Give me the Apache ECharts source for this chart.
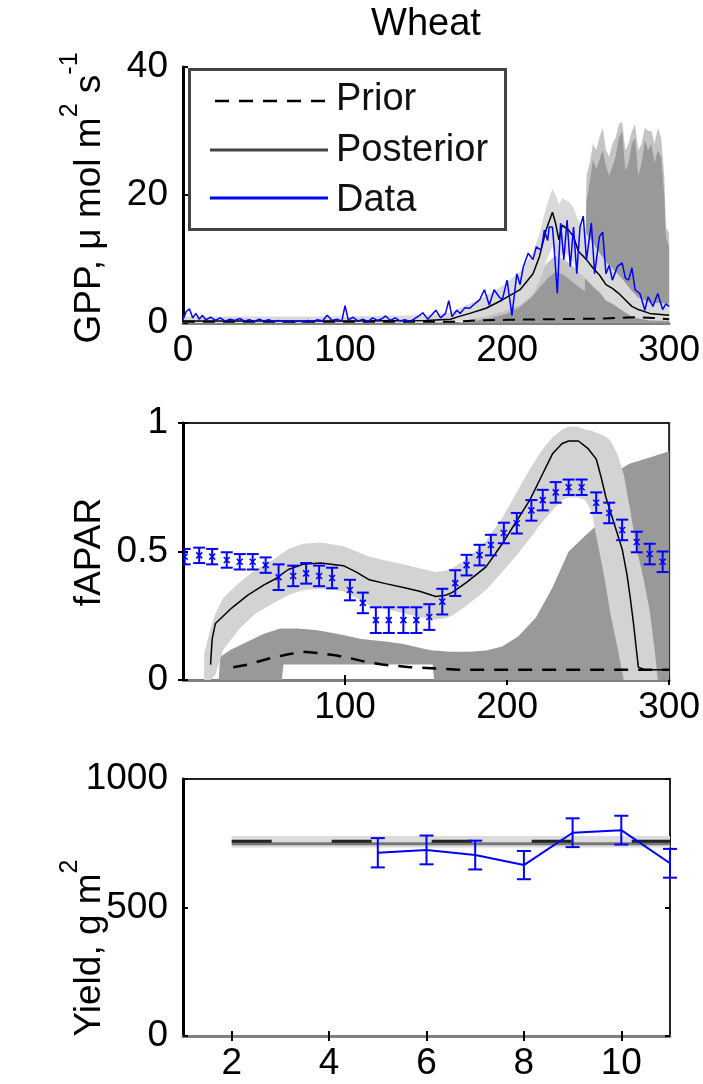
<!DOCTYPE html>
<html><head><meta charset="utf-8">
<script src="https://cdn.jsdelivr.net/npm/echarts@6/dist/echarts.min.js"></script>
<style>html,body{margin:0;padding:0;background:#fff}#c{width:703px;height:1084px}</style>
</head><body><div id="c"></div>
<script>
// ---------------- GPP panel ----------------
const gppObsDays = [0,2,4,6,8,10,12,14,17,20,23,26,29,32,35,38,41,44,47,50,53,56,59,62,65,68,71,74,77,80,83,86,89,92,95,98,100,102,105,108,111,114,117,120,123,125,128,131,134,137,140,143,146,148,151,154,156,159,162,164,166,169,171,174,177,180,183,186,189,192,195,197,200,203,206,208,210,213,216,218,221,223,225,226,228,229,231,233,235,237,239,241,243,245,247,249,252,254,257,259,261,263,265,268,271,273,275,277,279,282,285,287,290,293,296,298,300];
const gppObs = [0.5,1.8,2.2,0.8,1.5,0.6,1.2,0.5,0.9,0.4,0.8,0.3,0.6,0.4,0.7,0.3,0.5,0.2,0.6,0.3,0.5,0.2,0.4,0.2,0.3,0.1,0.3,0.2,0.4,0.2,0.5,0.3,1.2,0.4,0.6,0.3,2.7,0.5,0.9,0.3,0.6,0.2,0.8,0.4,0.7,1.1,0.4,0.8,0.3,0.5,0.2,0.7,1.2,1.6,0.6,1.4,2.0,0.8,1.5,3.5,1.0,2.0,1.5,2.4,2.3,3.0,3.6,5.2,2.8,5.2,4.1,3.6,6.7,1.2,7.7,6.0,8.8,10.9,9.9,11.9,11.4,14.5,12.9,15.0,15.0,11.9,4.6,15.6,9.9,16.1,8.8,15.0,7.7,15.0,16.7,9.9,15.6,7.7,13.5,14.2,7.7,9.0,6.7,8.8,9.4,7.0,6.7,8.6,5.2,4.6,2.0,4.1,2.6,4.6,2.1,3.0,2.6];

const gppPostDays = [0,50,100,150,165,170,177,187,197,208,216,220,224,228,230,232,234,238,241,244,249,253,257,261,265,269,273,277,281,288,300];
const gppPost     = [0.3,0.3,0.3,0.4,0.6,1.0,1.5,2.3,3.6,5.2,7.7,10.4,14.5,17.3,15.5,13.0,15.3,14.5,13.5,11.2,9.9,8.6,7.5,6.0,5.4,4.6,3.6,2.6,2.1,1.5,1.2];
const gppPostLo   = [0,0,0,0,0.1,0.3,0.6,1.0,1.8,2.8,4.5,6.5,9.5,12,11,9.5,11,10.5,9.5,8,6.8,5.7,4.8,3.5,3,2.3,1.6,1.0,0.7,0.4,0.3];
const gppPostHi   = [1,1,1,1.2,1.6,2.3,3,4.2,5.8,8,11,14,18,21,20,18.5,19.5,19,18,16,14,12.5,11,9.5,8.5,7.5,6.3,5,4,3.2,3];

const gppPriorRangeDays = [0,170,180,190,200,208,215,220,225,230,235,240,245,248,249,251,253,255,257,259,261,263,265,267,269,271,273,275,277,279,281,283,285,287,289,291,293,295,297,298,300];
const gppPriorMid = [0,0,0.3,0.8,1.5,2.5,4,5.5,7,8,7.5,6.5,5.5,5,19,22,25.5,24,25.5,27,24.5,23,24.4,26,29,30,23.8,25,28,29,23,25,28.5,27,28,25,27,26,20,13.4,12];
const gppPriorHi  = [0,0,0.8,1.8,3,4.5,6.5,8,9.5,10.5,10,9,8,7.5,23,25,28,27,29,30.5,27,26,28,29,31,31.5,27,28,30,31,27,28,30.5,30,30,28,30.5,29,23,15,14];

const gppPriorDays = [0,170,180,200,230,260,280,290,300];
const gppPrior     = [0.2,0.2,0.4,0.5,0.6,0.7,0.9,0.8,0.6];

// ---------------- fAPAR panel ----------------
const fObsDays = [1,10,18,27,35,43,51,59,68,76,84,92,103,111,119,127,136,144,152,160,168,175,183,190,198,206,215,222,230,238,246,255,263,271,280,288,296];
const fObs     = [0.48,0.485,0.48,0.467,0.46,0.46,0.447,0.40,0.405,0.415,0.405,0.397,0.35,0.30,0.233,0.233,0.233,0.233,0.245,0.305,0.377,0.447,0.486,0.525,0.572,0.61,0.66,0.70,0.73,0.75,0.75,0.69,0.65,0.584,0.537,0.49,0.46];
const fObsErr  = [0.03,0.03,0.03,0.03,0.03,0.03,0.03,0.05,0.04,0.04,0.04,0.04,0.04,0.04,0.05,0.05,0.05,0.05,0.05,0.05,0.05,0.04,0.04,0.04,0.04,0.04,0.04,0.04,0.04,0.03,0.03,0.04,0.04,0.04,0.04,0.04,0.04];

const fPostDays = [17,18,20,30,40,50,56,65,74,85,99,107,115,125,136,146,156,162,166,175,187,197,205,214,221,228,234,238,244,250,255,258,261,266,271,274,276,278,281,285,300];
const fPost     = [0.06,0.16,0.22,0.28,0.33,0.37,0.39,0.43,0.45,0.455,0.445,0.42,0.39,0.375,0.36,0.345,0.325,0.33,0.34,0.38,0.44,0.53,0.61,0.70,0.79,0.88,0.92,0.93,0.93,0.90,0.86,0.79,0.71,0.61,0.51,0.41,0.32,0.22,0.05,0.04,0.04];

const fBandDays = [13,17,20,25,35,45,56,65,74,85,99,107,115,125,136,146,156,162,166,175,187,197,205,214,221,228,234,238,244,248,252,256,260,264,268,272,276,280,284,288,291,293];
const fBandLo   = [0,0,0.02,0.12,0.2,0.26,0.3,0.33,0.35,0.355,0.345,0.32,0.29,0.275,0.26,0.245,0.235,0.24,0.25,0.29,0.35,0.42,0.48,0.55,0.61,0.66,0.70,0.71,0.71,0.70,0.66,0.53,0.40,0.25,0.13,0,0,0,0,0,0,0];
const fBandHi   = [0.1,0.2,0.26,0.32,0.38,0.43,0.47,0.51,0.53,0.535,0.52,0.50,0.48,0.465,0.45,0.435,0.42,0.425,0.435,0.47,0.54,0.63,0.72,0.82,0.89,0.945,0.975,0.985,0.985,0.975,0.97,0.96,0.95,0.93,0.88,0.80,0.66,0.51,0.40,0.27,0.12,0];

const fPriorRangeDays = [22,23,30,40,50,60,61,62,70,82,95,110,125,136,150,154,155,165,177,187,197,207,218,228,238,248,255,262,270,275,280,290,300];
const fPriorLo = [0,0,0,0,0,0,0,0.06,0.06,0.06,0.06,0.06,0.06,0.06,0.06,0.06,0,0,0,0,0,0,0,0,0,0,0,0,0,0,0,0,0];
const fPriorHi = [0,0.09,0.12,0.15,0.18,0.2,0.2,0.2,0.2,0.195,0.18,0.16,0.15,0.14,0.12,0.115,0.115,0.11,0.11,0.115,0.13,0.17,0.245,0.36,0.50,0.56,0.6,0.72,0.82,0.84,0.85,0.87,0.89];

const fPriorDays = [31,40,54,65,74,84,95,103,113,123,140,156,170,200,250,300];
const fPrior     = [0.05,0.06,0.085,0.1,0.11,0.105,0.095,0.085,0.07,0.06,0.05,0.045,0.04,0.04,0.04,0.04];

// ---------------- Yield panel ----------------
const yYears    = [5,6,7,8,9,10,11];
const yObs      = [713,724,704,665,791,801,672];
const yObsErr   = [57,56,56,55,56,56,56];
const yLineYears = [2,11];
const yPrior    = [758,758];
const yPost     = [748,748];
const yPostLo   = [733,733];
const yPostHi   = [778,778];

// tick labels
const gppXTicks = [0,100,200,300];
const gppYTicks = [0,20,40];
const fXTicks = [100,200,300];
const fYTicks = [0,0.5,1];
const yXTicks = [2,4,6,8,10];
const yYTicks = [0,500,1000];

const legendNames = ['Prior', 'Posterior', 'Data'];

const FONT = "'Liberation Sans', Arial, Helvetica, sans-serif";
const FS = 37;
const zip = (a, b) => a.map((v, i) => [v, b[i]]);
const zip3 = (a, b, c) => a.map((v, i) => [v, b[i], c[i]]);
const zeros = a => a.map(() => 0);

const chart = echarts.init(document.getElementById('c'), null, {renderer: 'canvas'});

const fmt = v => String(v);
const labelStyle = {fontSize: FS, fontFamily: FONT, color: '#000', formatter: fmt};
const tickStyle = {color: '#000', width: 2};
function xAx(grid, min, max, ticks, showTicks) {
  return {
    type: 'value', gridIndex: grid, min: min, max: max, position: 'bottom',
    axisLine: {show: true, onZero: false, lineStyle: {color: '#808080', width: 3}},
    axisTick: {show: showTicks, inside: true, length: 5, customValues: ticks, lineStyle: tickStyle},
    axisLabel: Object.assign({margin: 9, customValues: ticks}, labelStyle),
    splitLine: {show: false}
  };
}
function yAx(grid, min, max, ticks) {
  return {
    type: 'value', gridIndex: grid, min: min, max: max, position: 'left',
    axisLine: {show: true, onZero: false, lineStyle: {color: '#000', width: 3}},
    axisTick: {show: true, inside: true, length: 5, customValues: ticks, lineStyle: tickStyle},
    axisLabel: Object.assign({margin: 15, customValues: ticks}, labelStyle),
    splitLine: {show: false}
  };
}
function mirror(base, pos) {
  return Object.assign({}, base, {position: pos, axisLine: {show: false}, axisLabel: {show: false}});
}

const x0 = xAx(0, 0, 300, gppXTicks, false);
const y0 = yAx(0, 0, 40, gppYTicks);
const x1 = xAx(1, 0, 300, fXTicks, true);
const x1t = mirror(x1, 'top');
const y1 = yAx(1, 0, 1, fYTicks);
const y1r = mirror(y1, 'right');
const x2 = xAx(2, 1, 11, yXTicks, true);
const x2t = mirror(x2, 'top');
const y2 = yAx(2, 0, 1000, yYTicks);
const y2r = mirror(y2, 'right');

function errRender(capHalf, withX) {
  return function (params, api) {
    const x = api.value(0), y = api.value(1), e = api.value(2);
    const c = api.coord([x, y]);
    const t = api.coord([x, y + e]);
    const b = api.coord([x, y - e]);
    const st = {stroke: '#0000ff', lineWidth: 2};
    const ch = [
      {type: 'line', shape: {x1: t[0], y1: t[1], x2: b[0], y2: b[1]}, style: st},
      {type: 'line', shape: {x1: t[0] - capHalf, y1: t[1], x2: t[0] + capHalf, y2: t[1]}, style: st},
      {type: 'line', shape: {x1: b[0] - capHalf, y1: b[1], x2: b[0] + capHalf, y2: b[1]}, style: st}
    ];
    if (withX) {
      ch.push({type: 'line', shape: {x1: c[0] - 3, y1: c[1] - 3, x2: c[0] + 3, y2: c[1] + 3}, style: {stroke: '#0000ff', lineWidth: 1.5}});
      ch.push({type: 'line', shape: {x1: c[0] - 3, y1: c[1] + 3, x2: c[0] + 3, y2: c[1] - 3}, style: {stroke: '#0000ff', lineWidth: 1.5}});
    }
    return {type: 'group', children: ch};
  };
}
// filled band between lo (dim 1) and hi (dim 2), drawn as one polygon
function bandRender(color) {
  return function (params, api) {
    if (params.dataIndexInside !== 0) return null;
    const n = params.dataInsideLength;
    const top = [], bot = [];
    for (let i = 0; i < n; i++) {
      const x = api.value(0, i);
      top.push(api.coord([x, api.value(2, i)]));
      bot.push(api.coord([x, api.value(1, i)]));
    }
    return {type: 'polygon', shape: {points: top.concat(bot.reverse())}, style: {fill: color}, silent: true};
  };
}
function band(name, xi, yi, data, color, z) {
  return {type: 'custom', name: name, xAxisIndex: xi, yAxisIndex: yi, data: data,
    renderItem: bandRender(color), encode: {x: 0, y: [1, 2]}, z: z, clip: true, silent: true};
}

const series = [
  // ---- GPP ----
  band('gppPriorOuter', 0, 0, zip3(gppPriorRangeDays, zeros(gppPriorRangeDays), gppPriorHi), '#c4c4c4', 1),
  band('gppPriorInner', 0, 0, zip3(gppPriorRangeDays, zeros(gppPriorRangeDays), gppPriorMid), '#999999', 2),
  band('gppPostBand', 0, 0, zip3(gppPostDays, gppPostLo, gppPostHi), '#d9d9d9', 3),
  {type: 'line', name: legendNames[1], xAxisIndex: 0, yAxisIndex: 0, data: zip(gppPostDays, gppPost), symbol: 'none', lineStyle: {color: '#000', width: 1.5}, z: 5},
  {type: 'line', name: legendNames[0], xAxisIndex: 0, yAxisIndex: 0, data: zip(gppPriorDays, gppPrior), symbol: 'none', lineStyle: {color: '#000', width: 2, type: [12, 8]}, z: 5},
  {type: 'line', name: legendNames[2], xAxisIndex: 0, yAxisIndex: 0, data: zip(gppObsDays, gppObs), symbol: 'none', lineStyle: {color: '#0000ff', width: 1.5}, z: 6},
  // ---- fAPAR ----
  band('fPriorRange', 1, 1, zip3(fPriorRangeDays, fPriorLo, fPriorHi), '#999999', 1),
  band('fPostBand', 1, 1, zip3(fBandDays, fBandLo, fBandHi), '#d3d3d3', 2),
  {type: 'line', name: 'fPost', xAxisIndex: 1, yAxisIndex: 1, data: zip(fPostDays, fPost), symbol: 'none', lineStyle: {color: '#000', width: 1.5}, z: 4},
  {type: 'line', name: 'fPrior', xAxisIndex: 1, yAxisIndex: 1, data: zip(fPriorDays, fPrior), symbol: 'none', lineStyle: {color: '#000', width: 2.5, type: [14, 10]}, z: 4},
  {type: 'custom', name: 'fObs', xAxisIndex: 1, yAxisIndex: 1, data: zip3(fObsDays, fObs, fObsErr), renderItem: errRender(6, true), encode: {x: 0, y: 1}, z: 6, clip: true},
  // ---- Yield ----
  band('yPostBand', 3, 3, zip3(yLineYears, yPostLo, yPostHi), '#dcdcdc', 1),
  {type: 'line', name: 'yPost', xAxisIndex: 3, yAxisIndex: 3, data: zip(yLineYears, yPost), symbol: 'none', lineStyle: {color: '#777', width: 3}, z: 2},
  {type: 'line', name: 'yPrior', xAxisIndex: 3, yAxisIndex: 3, data: zip(yLineYears, yPrior), symbol: 'none', lineStyle: {color: '#222', width: 3, type: [40, 60]}, z: 3},
  {type: 'line', name: 'yObs', xAxisIndex: 3, yAxisIndex: 3, data: zip(yYears, yObs), symbol: 'none', lineStyle: {color: '#0000ff', width: 2}, z: 5},
  {type: 'custom', name: 'yObsErr', xAxisIndex: 3, yAxisIndex: 3, data: zip3(yYears, yObs, yObsErr), renderItem: errRender(7, false), encode: {x: 0, y: 1}, z: 6}
];

const richN = {fontSize: 37, fontFamily: FONT, fill: '#000', lineHeight: 50, verticalAlign: 'bottom'};
const richS = {fontSize: 25, fontFamily: FONT, fill: '#000', verticalAlign: 'top'};
function yName(text, x, y) {
  return {type: 'text', x: x, y: y, rotation: Math.PI / 2, z: 100,
    style: {text: text, rich: {n: richN, s: richS}, align: 'center', verticalAlign: 'middle'}};
}
// legend (drawn as graphic so the sample lines match the reference)
const legendGraphic = [
  {type: 'rect', z: 100, shape: {x: 189.5, y: 69.5, width: 316, height: 160}, style: {fill: '#fff', stroke: '#444', lineWidth: 3}},
  {type: 'line', z: 101, shape: {x1: 215, y1: 101, x2: 328, y2: 101}, style: {stroke: '#000', lineWidth: 2.5, lineDash: [14, 10]}},
  {type: 'line', z: 101, shape: {x1: 210, y1: 150, x2: 328, y2: 150}, style: {stroke: '#444', lineWidth: 3}},
  {type: 'line', z: 101, shape: {x1: 210, y1: 198, x2: 328, y2: 198}, style: {stroke: '#0000ff', lineWidth: 3}},
  {type: 'text', z: 101, x: 336, y: 100, style: {text: legendNames[0], fontSize: 38, fontFamily: FONT, fill: '#111', verticalAlign: 'middle'}},
  {type: 'text', z: 101, x: 336, y: 151, style: {text: legendNames[1], fontSize: 38, fontFamily: FONT, fill: '#111', verticalAlign: 'middle'}},
  {type: 'text', z: 101, x: 336, y: 201, style: {text: legendNames[2], fontSize: 38, fontFamily: FONT, fill: '#111', verticalAlign: 'middle'}}
];

chart.setOption({
  animation: false,
  backgroundColor: '#fff',
  grid: [
    {left: 183, top: 67, width: 487, height: 256, show: false},
    {left: 183, top: 423, width: 487, height: 257, show: true, borderColor: '#222', borderWidth: 2},
    {left: 183, top: 779, width: 487, height: 257, show: true, borderColor: '#222', borderWidth: 2}
  ],
  xAxis: [x0, x1, x1t, x2, x2t],
  yAxis: [y0, y1, y1r, y2, y2r],
  graphic: [
    {type: 'text', x: 426, y: 6, z: 100, style: {text: 'Wheat', fontSize: 38, fontFamily: FONT, fill: '#000', align: 'center', verticalAlign: 'top'}},
    yName('{n|GPP, μ mol m}{s|2}{n| s}{s|-1}', 83, 198),
    yName('{n|fAPAR}', 83, 552),
    yName('{n|Yield, g m}{s|2}', 83, 948)
  ].concat(legendGraphic),
  series: series
});
</script></body></html>
